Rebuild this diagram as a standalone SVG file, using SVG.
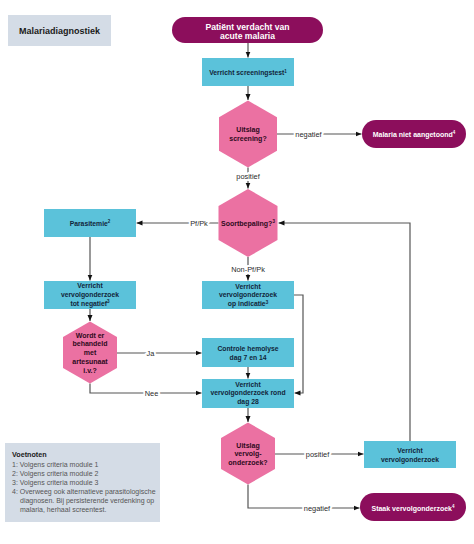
<svg xmlns="http://www.w3.org/2000/svg" width="474" height="544" viewBox="0 0 474 544">
<style>
text{font-family:"Liberation Sans",Arial,sans-serif;}
.pill{fill:#8c0e5c;}
.box{fill:#5bc2da;}
.hex{fill:#eb71a2;}
.note{fill:#d4dce6;}
.pt{fill:#fff;font-weight:bold;text-anchor:middle;}
.bt{fill:#12263a;font-weight:bold;font-size:6.8px;text-anchor:middle;}
.ht{fill:#2e0a20;font-weight:bold;font-size:7px;text-anchor:middle;}
.lbl{fill:#2a2a2a;font-size:7.4px;text-anchor:middle;stroke:#fff;stroke-width:4px;paint-order:stroke;stroke-linejoin:round;}
.ln{fill:none;stroke:#555;stroke-width:1.2;}
.ft{fill:#555;font-size:7px;}
</style>
<defs>
<marker id="ah" markerUnits="userSpaceOnUse" markerWidth="6" markerHeight="6" viewBox="0 0 6 6" refX="6" refY="3" orient="auto">
<path d="M0,0.5 L6,3 L0,5.5 Z" fill="#111"/>
</marker>
</defs>
<rect width="474" height="544" fill="#fff"/>

<g id="title">
<rect class="note" x="8" y="15" width="103" height="31"/>
<text x="59.5" y="34" font-size="9" font-weight="bold" fill="#1a1a1a" text-anchor="middle">Malariadiagnostiek</text>
</g>

<g id="connectors">
<path class="ln" d="M248,43 V57.5" marker-end="url(#ah)"/>
<path class="ln" d="M248,86 V100" marker-end="url(#ah)"/>
<path class="ln" d="M277,134 H361.5" marker-end="url(#ah)"/>
<path class="ln" d="M248,167.5 V188.5" marker-end="url(#ah)"/>
<path class="ln" d="M218.5,223 H136.5" marker-end="url(#ah)"/>
<path class="ln" d="M90,237 V280.5" marker-end="url(#ah)"/>
<path class="ln" d="M248,257 V280.5" marker-end="url(#ah)"/>
<path class="ln" d="M90,309 V321" marker-end="url(#ah)"/>
<path class="ln" d="M117,353 H201.5" marker-end="url(#ah)"/>
<path class="ln" d="M90,383.5 V393 H201.5" marker-end="url(#ah)"/>
<path class="ln" d="M294,295 H303 V393 H294.5" marker-end="url(#ah)"/>
<path class="ln" d="M248,367 V378.5" marker-end="url(#ah)"/>
<path class="ln" d="M248,408 V422" marker-end="url(#ah)"/>
<path class="ln" d="M275,454 H363.5" marker-end="url(#ah)"/>
<path class="ln" d="M248,484.5 V508 H359.5" marker-end="url(#ah)"/>
<path class="ln" d="M410,441 V223 H278.5" marker-end="url(#ah)"/>
<text class="lbl" x="308.5" y="136.6">negatief</text>
<text class="lbl" x="248" y="178.6">positief</text>
<text class="lbl" x="199" y="225.6">Pf/Pk</text>
<text class="lbl" x="248" y="271.6">Non-Pf/Pk</text>
<text class="lbl" x="150.5" y="355.6">Ja</text>
<text class="lbl" x="151.5" y="395.6">Nee</text>
<text class="lbl" x="317.5" y="456.6">positief</text>
<text class="lbl" x="317" y="510.6">negatief</text>
</g>

<g id="start">
<rect class="pill" x="172" y="17" width="151" height="26" rx="13"/>
<text class="pt" x="247.5" y="29.5" font-size="8.6">Patiënt verdacht van</text>
<text class="pt" x="247.5" y="38.8" font-size="8.6">acute malaria</text>
</g>

<g id="screeningstest">
<rect class="box" x="202" y="58" width="92" height="28"/>
<text class="bt" x="248" y="75">Verricht screeningstest<tspan font-size="4.5" dy="-2.5">1</tspan></text>
</g>

<g id="uitslag-screening">
<polygon class="hex" points="248,100.5 277,117.3 277,150.7 248,167.5 219,150.7 219,117.3"/>
<text class="ht" x="248" y="131.5">Uitslag</text>
<text class="ht" x="248" y="140.8">screening?</text>
</g>

<g id="niet-aangetoond">
<rect class="pill" x="362" y="120" width="104" height="28" rx="14"/>
<text class="pt" x="414" y="136.5" font-size="7">Malaria niet aangetoond<tspan font-size="4.5" dy="-2.5">4</tspan></text>
</g>

<g id="soortbepaling">
<polygon class="hex" points="248,189 277.5,206 277.5,240 248,257 218.5,240 218.5,206"/>
<text class="ht" x="248" y="225.5">Soortbepaling?<tspan font-size="4.5" dy="-2.5">3</tspan></text>
</g>

<g id="parasitemie">
<rect class="box" x="44" y="209" width="92" height="28"/>
<text class="bt" x="90" y="225.5">Parasitemie<tspan font-size="4.5" dy="-2.5">2</tspan></text>
</g>

<g id="vervolg-tot-negatief">
<rect class="box" x="44" y="281" width="92" height="28"/>
<text class="bt" x="90" y="288.2">Verricht</text>
<text class="bt" x="90" y="297">vervolgonderzoek</text>
<text class="bt" x="90" y="305.8">tot negatief<tspan font-size="4.5" dy="-2.5">3</tspan></text>
</g>

<g id="vervolg-op-indicatie">
<rect class="box" x="202" y="281" width="92" height="28"/>
<text class="bt" x="248" y="288.5">Verricht</text>
<text class="bt" x="248" y="297.3">vervolgonderzoek</text>
<text class="bt" x="248" y="306.1">op indicatie<tspan font-size="4.5" dy="-2.5">3</tspan></text>
</g>

<g id="artesunaat">
<polygon class="hex" points="90,321.5 117,337 117,368 90,383.5 63,368 63,337"/>
<text class="ht" x="90" y="337.5">Wordt er</text>
<text class="ht" x="90" y="346.3">behandeld</text>
<text class="ht" x="90" y="355.2">met</text>
<text class="ht" x="90" y="364.1">artesunaat</text>
<text class="ht" x="90" y="372.9">i.v.?</text>
</g>

<g id="controle-hemolyse">
<rect class="box" x="202" y="338" width="92" height="29"/>
<text class="bt" x="248" y="350.5">Controle hemolyse</text>
<text class="bt" x="248" y="359.5">dag 7 en 14</text>
</g>

<g id="vervolg-dag-28">
<rect class="box" x="202" y="379" width="92" height="29"/>
<text class="bt" x="248" y="386.5">Verricht</text>
<text class="bt" x="248" y="395.4">vervolgonderzoek rond</text>
<text class="bt" x="248" y="404.3">dag 28</text>
</g>

<g id="uitslag-vervolg">
<polygon class="hex" points="248,422.5 275,438 275,469 248,484.5 221,469 221,438"/>
<text class="ht" x="248" y="447.5">Uitslag</text>
<text class="ht" x="248" y="456.4">vervolg-</text>
<text class="ht" x="248" y="465.3">onderzoek?</text>
</g>

<g id="verricht-vervolg">
<rect class="box" x="364" y="441" width="92" height="27"/>
<text class="bt" x="410" y="452.5">Verricht</text>
<text class="bt" x="410" y="461.5">vervolgonderzoek</text>
</g>

<g id="staak">
<rect class="pill" x="360" y="493" width="106" height="28" rx="14"/>
<text class="pt" x="413" y="510.5" font-size="7">Staak vervolgonderzoek<tspan font-size="4.5" dy="-2.5">4</tspan></text>
</g>

<g id="voetnoten">
<rect class="note" x="5" y="443" width="155" height="79"/>
<text x="12" y="457" font-size="7.2" font-weight="bold" fill="#1a1a1a">Voetnoten</text>
<text class="ft" x="12" y="466.5">1: Volgens criteria module 1</text>
<text class="ft" x="12" y="475.5">2: Volgens criteria module 2</text>
<text class="ft" x="12" y="484.5">3: Volgens criteria module 3</text>
<text class="ft" x="12" y="493.5">4: Overweeg ook alternatieve parasitologische</text>
<text class="ft" x="20" y="502.8">diagnosen. Bij persisterende verdenking op</text>
<text class="ft" x="20" y="511.8">malaria, herhaal screentest.</text>
</g>
</svg>
